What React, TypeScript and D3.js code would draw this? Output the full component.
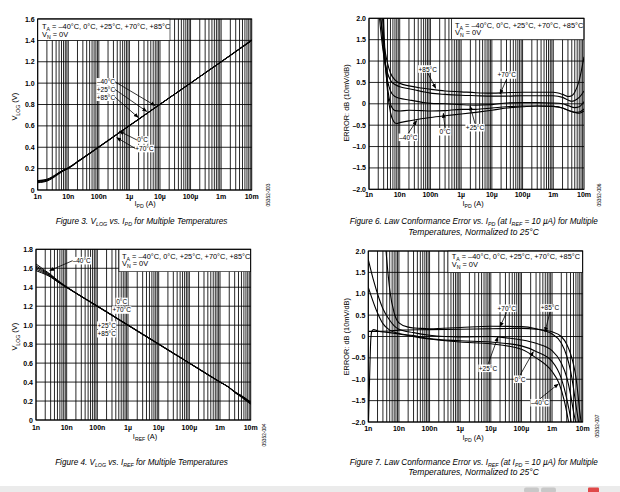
import React, { useLayoutEffect, useRef, useState } from "react";
import * as d3 from "d3";

type Pt = [number, number];

// ---------- shared axis data ----------
const X_TICK_VALUES = [1e-9, 1e-8, 1e-7, 1e-6, 1e-5, 1e-4, 1e-3, 1e-2];
const X_TICK_LABELS = ["1n", "10n", "100n", "1µ", "10µ", "100µ", "1m", "10m"];
const Y_TICKS_VPD = [0, 0.2, 0.4, 0.6, 0.8, 1.0, 1.2, 1.4, 1.6];
const Y_LABELS_VPD = ["0", "0.2", "0.4", "0.6", "0.8", "1.0", "1.2", "1.4", "1.6"];
const Y_TICKS_VREF = [0, 0.2, 0.4, 0.6, 0.8, 1.0, 1.2, 1.4, 1.6, 1.8];
const Y_LABELS_VREF = ["0", "0.2", "0.4", "0.6", "0.8", "1.0", "1.2", "1.4", "1.6", "1.8"];
const Y_TICKS_ERR = [-2, -1.5, -1, -0.5, 0, 0.5, 1, 1.5, 2];
const Y_LABELS_ERR = ["–2.0", "–1.5", "–1.0", "–0.5", "0", "0.5", "1.0", "1.5", "2.0"];
const LEGEND_LINE1 = ["T", "A", " = –40°C, 0°C, +25°C, +70°C, +85°C"];
const LEGEND_LINE2 = ["V", "N", " = 0V"];

// ---------- Figure 3: VLOG vs IPD ----------
const F3_M40: Pt[] = [[1e-9, 0.068], [1.5e-9, 0.074], [2e-9, 0.083], [3e-9, 0.108], [5e-9, 0.152], [7e-9, 0.178], [1e-8, 0.2], [2e-8, 0.26], [5e-8, 0.339], [1e-7, 0.4], [1e-6, 0.6], [1e-5, 0.801], [1e-4, 1.001], [1e-3, 1.201], [3e-3, 1.297], [1e-2, 1.405]];
const F3_0: Pt[] = [[1e-9, 0.073], [1.5e-9, 0.079], [2e-9, 0.088], [3e-9, 0.113], [5e-9, 0.156], [7e-9, 0.181], [1e-8, 0.203], [2e-8, 0.262], [5e-8, 0.341], [1e-7, 0.401], [1e-6, 0.601], [1e-5, 0.801], [1e-4, 1.0], [1e-3, 1.2], [3e-3, 1.296], [1e-2, 1.402]];
const F3_25: Pt[] = [[1e-9, 0.078], [1.5e-9, 0.084], [2e-9, 0.092], [3e-9, 0.117], [5e-9, 0.159], [7e-9, 0.183], [1e-8, 0.205], [2e-8, 0.264], [5e-8, 0.342], [1e-7, 0.402], [1e-6, 0.602], [1e-5, 0.802], [1e-4, 1.0], [1e-3, 1.199], [3e-3, 1.295], [1e-2, 1.4]];
const F3_70: Pt[] = [[1e-9, 0.084], [1.5e-9, 0.09], [2e-9, 0.097], [3e-9, 0.121], [5e-9, 0.162], [7e-9, 0.186], [1e-8, 0.207], [2e-8, 0.266], [5e-8, 0.344], [1e-7, 0.404], [1e-6, 0.603], [1e-5, 0.802], [1e-4, 1.0], [1e-3, 1.198], [3e-3, 1.294], [1e-2, 1.398]];
const F3_85: Pt[] = [[1e-9, 0.088], [1.5e-9, 0.094], [2e-9, 0.101], [3e-9, 0.124], [5e-9, 0.165], [7e-9, 0.188], [1e-8, 0.209], [2e-8, 0.267], [5e-8, 0.345], [1e-7, 0.405], [1e-6, 0.604], [1e-5, 0.803], [1e-4, 1.0], [1e-3, 1.198], [3e-3, 1.293], [1e-2, 1.397]];

// ---------- Figure 4: VLOG vs IREF ----------
const F4_M40: Pt[] = [[1e-9, 1.645], [1.5e-9, 1.605], [2e-9, 1.575], [3e-9, 1.535], [5e-9, 1.475], [1e-8, 1.405], [1e-7, 1.203], [1e-6, 1.003], [1e-5, 0.803], [1e-4, 0.602], [1e-3, 0.402], [2e-3, 0.34], [3e-3, 0.29], [5e-3, 0.24], [1e-2, 0.165]];
const F4_0: Pt[] = [[1e-9, 1.625], [1.5e-9, 1.59], [2e-9, 1.565], [3e-9, 1.528], [5e-9, 1.47], [1e-8, 1.402], [1e-7, 1.202], [1e-6, 1.002], [1e-5, 0.802], [1e-4, 0.601], [1e-3, 0.401], [2e-3, 0.342], [3e-3, 0.292], [5e-3, 0.245], [1e-2, 0.172]];
const F4_25: Pt[] = [[1e-9, 1.61], [1.5e-9, 1.578], [2e-9, 1.555], [3e-9, 1.52], [5e-9, 1.465], [1e-8, 1.4], [1e-7, 1.2], [1e-6, 1.0], [1e-5, 0.8], [1e-4, 0.6], [1e-3, 0.4], [2e-3, 0.342], [3e-3, 0.295], [5e-3, 0.25], [1e-2, 0.178]];
const F4_70: Pt[] = [[1e-9, 1.592], [1.5e-9, 1.565], [2e-9, 1.545], [3e-9, 1.513], [5e-9, 1.461], [1e-8, 1.398], [1e-7, 1.198], [1e-6, 0.998], [1e-5, 0.798], [1e-4, 0.599], [1e-3, 0.399], [2e-3, 0.343], [3e-3, 0.298], [5e-3, 0.255], [1e-2, 0.185]];
const F4_85: Pt[] = [[1e-9, 1.575], [1.5e-9, 1.553], [2e-9, 1.536], [3e-9, 1.507], [5e-9, 1.457], [1e-8, 1.396], [1e-7, 1.197], [1e-6, 0.997], [1e-5, 0.797], [1e-4, 0.598], [1e-3, 0.398], [2e-3, 0.343], [3e-3, 0.299], [5e-3, 0.258], [1e-2, 0.19]];

// ---------- Figure 6: error vs IPD ----------
const F6_85: Pt[] = [[1.5e-9, 3.2], [2e-9, 2.5], [2.5e-9, 1.9], [3e-9, 1.45], [4e-9, 0.95], [5e-9, 0.72], [7e-9, 0.56], [1e-8, 0.48], [2e-8, 0.42], [5e-8, 0.37], [1e-7, 0.34], [3e-7, 0.3], [1e-6, 0.28], [3e-6, 0.26], [1e-5, 0.25], [3e-5, 0.26], [1e-4, 0.27], [3e-4, 0.27], [1e-3, 0.27], [2e-3, 0.22], [3e-3, 0.17], [4e-3, 0.19], [5e-3, 0.27], [7e-3, 0.55], [1e-2, 1.1]];
const F6_70: Pt[] = [[1.5e-9, 3.0], [2e-9, 2.3], [2.5e-9, 1.6], [3e-9, 1.15], [4e-9, 0.72], [5e-9, 0.55], [7e-9, 0.45], [1e-8, 0.4], [2e-8, 0.35], [5e-8, 0.29], [1e-7, 0.25], [3e-7, 0.22], [1e-6, 0.2], [3e-6, 0.19], [1e-5, 0.18], [3e-5, 0.18], [1e-4, 0.19], [3e-4, 0.19], [1e-3, 0.19], [2e-3, 0.15], [3e-3, 0.09], [4e-3, 0.06], [5e-3, 0.08], [7e-3, 0.15], [1e-2, 0.3]];
const F6_25: Pt[] = [[2e-9, 2.8], [2.5e-9, 1.9], [3e-9, 1.2], [4e-9, 0.55], [5e-9, 0.3], [7e-9, 0.17], [1e-8, 0.13], [2e-8, 0.09], [5e-8, 0.04], [1e-7, 0.01], [3e-7, 0.0], [1e-6, -0.02], [3e-6, -0.03], [1e-5, -0.02], [3e-5, 0.02], [1e-4, 0.03], [3e-4, 0.03], [1e-3, 0.02], [2e-3, 0.0], [3e-3, -0.04], [5e-3, -0.09], [7e-3, -0.07], [1e-2, 0.05]];
const F6_0: Pt[] = [[2.5e-9, 2.6], [3e-9, 1.5], [4e-9, 0.4], [5e-9, 0.0], [6e-9, -0.12], [7e-9, -0.16], [1e-8, -0.17], [2e-8, -0.15], [5e-8, -0.16], [1e-7, -0.17], [3e-7, -0.16], [1e-6, -0.13], [3e-6, -0.13], [1e-5, -0.1], [3e-5, -0.07], [1e-4, -0.05], [3e-4, -0.05], [1e-3, -0.06], [2e-3, -0.1], [3e-3, -0.15], [5e-3, -0.2], [7e-3, -0.19], [1e-2, -0.12]];
const F6_M40: Pt[] = [[2.8e-9, 2.6], [3e-9, 1.9], [3.5e-9, 0.9], [4e-9, 0.3], [5e-9, -0.2], [6e-9, -0.38], [7e-9, -0.45], [8e-9, -0.46], [1e-8, -0.44], [2e-8, -0.4], [5e-8, -0.35], [1e-7, -0.32], [3e-7, -0.28], [1e-6, -0.24], [3e-6, -0.2], [1e-5, -0.15], [3e-5, -0.1], [1e-4, -0.07], [3e-4, -0.05], [1e-3, -0.06], [2e-3, -0.1], [3e-3, -0.15], [5e-3, -0.2], [7e-3, -0.22], [1e-2, -0.17]];

// ---------- Figure 7: error vs IREF ----------
const F7_85: Pt[] = [[1e-9, 0.12], [2e-9, 0.12], [5e-9, 0.13], [1e-8, 0.15], [1e-7, 0.16], [1e-6, 0.17], [1e-5, 0.18], [1e-4, 0.19], [3e-4, 0.17], [1e-3, 0.11], [2e-3, 0.0], [3e-3, -0.18], [4e-3, -0.4], [5e-3, -0.65], [6e-3, -0.95], [7e-3, -1.35], [8e-3, -1.75], [9.3e-3, -2.1]];
const F7_70: Pt[] = [[3.5e-9, 2.3], [4e-9, 1.8], [5e-9, 1.1], [7e-9, 0.55], [1e-8, 0.32], [2e-8, 0.22], [5e-8, 0.19], [1e-7, 0.18], [1e-6, 0.21], [1e-5, 0.24], [1e-4, 0.23], [3e-4, 0.18], [1e-3, 0.06], [2e-3, -0.15], [3e-3, -0.45], [4e-3, -0.8], [5e-3, -1.2], [6e-3, -1.6], [7.7e-3, -2.1]];
const F7_25: Pt[] = [[1e-9, 1.8], [1.5e-9, 1.3], [2e-9, 1.0], [3e-9, 0.65], [5e-9, 0.38], [7e-9, 0.25], [1e-8, 0.17], [3e-8, 0.09], [1e-7, 0.03], [3e-7, 0.0], [1e-6, -0.01], [1e-5, 0.0], [3e-5, -0.03], [1e-4, -0.08], [3e-4, -0.16], [1e-3, -0.33], [2e-3, -0.62], [3e-3, -0.95], [4e-3, -1.35], [5e-3, -1.75], [6.3e-3, -2.1]];
const F7_0: Pt[] = [[1e-9, 1.15], [2e-9, 0.55], [3e-9, 0.3], [5e-9, 0.15], [1e-8, 0.07], [3e-8, 0.02], [1e-7, -0.05], [1e-6, -0.1], [1e-5, -0.13], [1e-4, -0.22], [3e-4, -0.35], [1e-3, -0.58], [2e-3, -0.98], [3e-3, -1.45], [4e-3, -1.9], [4.4e-3, -2.1]];
const F7_M40: Pt[] = [[1e-9, -2.2], [1.1e-9, -1.0], [1.2e-9, -0.1], [1.3e-9, 0.12], [1.5e-9, 0.16], [2e-9, 0.13], [5e-9, 0.09], [1e-8, 0.06], [1e-7, -0.06], [1e-6, -0.13], [1e-5, -0.17], [1e-4, -0.3], [3e-4, -0.5], [1e-3, -0.82], [1.7e-3, -1.1], [2.5e-3, -1.5], [3.9e-3, -2.2]];

// ---------- annotations (data coordinates) ----------
type Ann = { text: string; lx: number; ly: number; tx?: number; ty?: number; from?: "left" | "right" | "top" | "bottom" };
const F3_ANN: Ann[] = [
  { text: "–40°C", lx: 1.71e-7, ly: 1.012, tx: 6.87e-6, ty: 0.79, from: "right" },
  { text: "+25°C", lx: 1.71e-7, ly: 0.94, tx: 3.68e-6, ty: 0.735, from: "right" },
  { text: "+85°C", lx: 1.71e-7, ly: 0.868, tx: 1.95e-6, ty: 0.678, from: "right" },
  { text: "0°C", lx: 2.7e-6, ly: 0.468, tx: 4.67e-7, ty: 0.55, from: "left" },
  { text: "+70°C", lx: 3.1e-6, ly: 0.388, tx: 3.84e-7, ty: 0.49, from: "left" },
];
const F4_ANN: Ann[] = [
  { text: "–40°C", lx: 3.09e-8, ly: 1.68, tx: 2.8e-9, ty: 1.575, from: "left" },
  { text: "0°C", lx: 6.22e-7, ly: 1.25 },
  { text: "+70°C", lx: 6.22e-7, ly: 1.16 },
  { text: "+25°C", lx: 2.02e-7, ly: 1.0 },
  { text: "+85°C", lx: 2.02e-7, ly: 0.91 },
];
const F6_ANN: Ann[] = [
  { text: "+85°C", lx: 8.15e-8, ly: 0.814, tx: 1.49e-7, ty: 0.363, from: "bottom" },
  { text: "+70°C", lx: 3.05e-5, ly: 0.674, tx: 1.84e-5, ty: 0.229, from: "bottom" },
  { text: "–40°C", lx: 1.9e-8, ly: -0.784, tx: 3.57e-8, ty: -0.395, from: "top" },
  { text: "0°C", lx: 2.98e-7, ly: -0.653, tx: 2.63e-7, ty: -0.222, from: "top" },
  { text: "+25°C", lx: 2.83e-6, ly: -0.559, tx: 1.95e-6, ty: -0.051, from: "top" },
];
const F7_ANN: Ann[] = [
  { text: "+70°C", lx: 3.3e-5, ly: 0.66, tx: 2e-5, ty: 0.23, from: "bottom" },
  { text: "+85°C", lx: 8.55e-4, ly: 0.667, tx: 5.87e-4, ty: 0.112, from: "bottom" },
  { text: "+25°C", lx: 8.09e-6, ly: -0.744, tx: 1.71e-5, ty: -0.012, from: "top" },
  { text: "0°C", lx: 8.97e-5, ly: -1.0, tx: 2.44e-4, ty: -0.356, from: "top" },
  { text: "–40°C", lx: 4.03e-4, ly: -1.549, tx: 1.6e-3, ty: -1.111, from: "top" },
];

const FONT = "'Liberation Sans', Arial, Helvetica, sans-serif";

type Part = [string, boolean];
function Rich({ parts, x, y, size, sub, anchor = "start", italic = false, rotate = false, weight = "normal" }: {
  parts: Part[]; x: number; y: number; size: number; sub: number; anchor?: string; italic?: boolean; rotate?: boolean; weight?: string;
}) {
  const shift = size * 0.28;
  let cur = 0;
  return (
    <text x={x} y={y} fontSize={size} fontFamily={FONT} textAnchor={anchor as any} fontStyle={italic ? "italic" : "normal"}
      fontWeight={weight}
      transform={rotate ? `rotate(-90 ${x} ${y})` : undefined} fill="#000">
      {parts.map(([s, isSub], i) => {
        const target = isSub ? shift : 0;
        const dy = target - cur;
        cur = target;
        return <tspan key={i} dy={dy} fontSize={isSub ? sub : size}>{s}</tspan>;
      })}
    </text>
  );
}

// caption: measured, then squeezed horizontally to the width the reference uses
function Caption({ parts, cx, y, width }: { parts: Part[]; cx: number; y: number; width: number }) {
  const ref = useRef<SVGGElement>(null);
  const [sx, setSx] = useState(0.82);
  useLayoutEffect(() => {
    if (ref.current) {
      const w = ref.current.getBBox().width;
      if (w > 0) setSx(width / w);
    }
  }, [width]);
  return (
    <g transform={`translate(${cx} ${y}) scale(${sx} 1)`}>
      <g ref={ref}>
        <Rich parts={parts} x={0} y={0} size={8.6} sub={5.6} anchor="middle" italic />
      </g>
    </g>
  );
}

const toParts = (arr: string[]): Part[] => arr.map((s, i) => [s, i % 2 === 1]);

interface PanelProps {
  id: string;
  x0: number; x1: number; y0: number; y1: number;
  yDomain: [number, number];
  yTicks: number[]; yLabels: string[];
  series: Pt[][];
  lineWidth: number;
  legend: { bx0: number; bx1: number; by1: number; tx: number; l1: number; l2: number };
  anns: Ann[];
  yTitle: Part[]; yTitleX: number; yTitleY: number;
  xTitle: Part[]; xTitleX: number; xTitleY: number;
  xLabelDy: number;
  code: string; codeX: number; codeY: number;
}

function Panel(p: PanelProps) {
  const x = d3.scaleLog().domain([1e-9, 1e-2]).range([p.x0, p.x1]);
  const y = d3.scaleLinear().domain(p.yDomain).range([p.y1, p.y0]);
  const minor: number[] = [];
  for (let e = -9; e < -2; e++) for (let m = 1; m < 10; m++) minor.push(m * Math.pow(10, e));
  const line = d3.line<Pt>().x((d) => x(d[0])).y((d) => y(d[1])).curve(d3.curveMonotoneX);
  const clipId = `clip-${p.id}`;
  const labelW = (t: string) => t.length * 3.45;
  return (
    <g>
      <defs>
        <clipPath id={clipId}>
          <rect x={p.x0} y={p.y0} width={p.x1 - p.x0} height={p.y1 - p.y0} />
        </clipPath>
      </defs>
      <rect x={p.x0} y={p.y0} width={p.x1 - p.x0} height={p.y1 - p.y0} fill="#fff" />
      {minor.map((v, i) => (
        <line key={`v${i}`} x1={x(v)} x2={x(v)} y1={p.y0} y2={p.y1} stroke="#000" strokeWidth={0.85} />
      ))}
      {p.yTicks.map((v, i) => (
        <line key={`h${i}`} x1={p.x0} x2={p.x1} y1={y(v)} y2={y(v)} stroke="#000" strokeWidth={0.85} />
      ))}
      <rect x={p.legend.bx0} y={p.y0} width={p.legend.bx1 - p.legend.bx0} height={p.legend.by1 - p.y0} fill="#fff" stroke="#000" strokeWidth={0.6} />
      <Rich parts={toParts(LEGEND_LINE1)} x={p.legend.tx} y={p.legend.l1} size={7.4} sub={5.2} />
      <Rich parts={toParts(LEGEND_LINE2)} x={p.legend.tx} y={p.legend.l2} size={7.4} sub={5.2} />
      <g clipPath={`url(#${clipId})`}>
        {p.series.map((s, i) => (
          <path key={i} d={line(s) || ""} fill="none" stroke="#000" strokeWidth={p.lineWidth} strokeLinejoin="round" />
        ))}
      </g>
      {p.anns.map((a, i) => {
        const lx = x(a.lx), ly = y(a.ly);
        const w = labelW(a.text);
        let arrow = null;
        if (a.tx !== undefined && a.ty !== undefined && a.from) {
          let sx = lx, sy = ly;
          if (a.from === "right") sx = lx + w / 2 + 0.5;
          if (a.from === "left") sx = lx - w / 2 - 0.5;
          if (a.from === "top") sy = ly - 4;
          if (a.from === "bottom") sy = ly + 4;
          const tx = x(a.tx), ty = y(a.ty);
          arrow = <line x1={sx} y1={sy} x2={tx} y2={ty} stroke="#000" strokeWidth={0.8} markerEnd="url(#arrowhead)" />;
        }
        return (
          <g key={`a${i}`}>
            <rect x={lx - w / 2 - 1} y={ly - 3.8} width={w + 2} height={7.6} fill="#fff" />
            <text x={lx} y={ly} fontSize={6.5} fontFamily={FONT} textAnchor="middle" dominantBaseline="central">{a.text}</text>
            {arrow}
          </g>
        );
      })}
      <rect x={p.x0} y={p.y0} width={p.x1 - p.x0} height={p.y1 - p.y0} fill="none" stroke="#000" strokeWidth={1} />
      {p.yTicks.map((v, i) => (
        <text key={`yl${i}`} x={p.x0 - 3} y={y(v)} fontSize={7} fontWeight="bold" fontFamily={FONT} textAnchor="end" dominantBaseline="central">{p.yLabels[i]}</text>
      ))}
      {X_TICK_VALUES.map((v, i) => (
        <text key={`xl${i}`} x={x(v)} y={p.y1 + p.xLabelDy} fontSize={7} fontWeight="bold" fontFamily={FONT} textAnchor="middle" dominantBaseline="central">{X_TICK_LABELS[i]}</text>
      ))}
      <Rich parts={p.xTitle} x={p.xTitleX} y={p.xTitleY} size={7.4} sub={5.2} anchor="middle" />
      <Rich parts={p.yTitle} x={p.yTitleX} y={p.yTitleY} size={7.4} sub={5.2} anchor="middle" rotate />
      <text x={p.codeX} y={p.codeY} fontSize={4.8} fontFamily={FONT} textAnchor="middle" transform={`rotate(-90 ${p.codeX} ${p.codeY})`}>{p.code}</text>
    </g>
  );
}

const CAP3: Part[] = [["Figure 3. V", false], ["LOG", true], [" vs. I", false], ["PD", true], [" for Multiple Temperatures", false]];
const CAP4: Part[] = [["Figure 4. V", false], ["LOG", true], [" vs. I", false], ["REF", true], [" for Multiple Temperatures", false]];
const CAP6: Part[] = [["Figure 6. Law Conformance Error vs. I", false], ["PD", true], [" (at I", false], ["REF", true], [" = 10 µA) for Multiple", false]];
const CAP7: Part[] = [["Figure 7. Law Conformance Error vs. I", false], ["REF", true], [" (at I", false], ["PD", true], [" = 10 µA) for Multiple", false]];
const CAP_LINE2: Part[] = [["Temperatures, Normalized to 25°C", false]];

export default function App() {
  return (
    <svg width={620} height={492} viewBox="0 0 620 492" style={{ position: "absolute", left: 0, top: 0, background: "#fff" }}>
      <defs>
        <marker id="arrowhead" viewBox="0 0 10 10" refX="9" refY="5" markerWidth="5" markerHeight="5" markerUnits="userSpaceOnUse" orient="auto">
          <path d="M0,1 L10,5 L0,9 z" fill="#000" />
        </marker>
      </defs>
      <rect x={0} y={0} width={620} height={492} fill="#fff" />
      <Panel id="f3" x0={37.7} x1={251.7} y0={19} y1={190} yDomain={[0, 1.6]} yTicks={Y_TICKS_VPD} yLabels={Y_LABELS_VPD}
        series={[F3_M40, F3_0, F3_25, F3_70, F3_85]} lineWidth={1.0}
        legend={{ bx0: 37.7, bx1: 170, by1: 40.3, tx: 42, l1: 28.8, l2: 36.5 }}
        anns={F3_ANN}
        yTitle={[["V", false], ["LOG", true], [" (V)", false]]} yTitleX={17.5} yTitleY={106.7}
        xTitle={[["I", false], ["PD", true], [" (A)", false]]} xTitleX={145} xTitleY={206}
        xLabelDy={6.5} code="05352-003" codeX={270} codeY={195} />
      <Panel id="f6" x0={369} x1={584} y0={18.3} y1={189.3} yDomain={[-2, 2]} yTicks={Y_TICKS_ERR} yLabels={Y_LABELS_ERR}
        series={[F6_85, F6_70, F6_25, F6_0, F6_M40]} lineWidth={1.1}
        legend={{ bx0: 451.7, bx1: 584, by1: 39.7, tx: 455, l1: 27.5, l2: 35.2 }}
        anns={F6_ANN}
        yTitle={[["ERROR: dB (10mV/dB)", false]]} yTitleX={349} yTitleY={103}
        xTitle={[["I", false], ["PD", true], [" (A)", false]]} xTitleX={473} xTitleY={206}
        xLabelDy={5.5} code="05352-006" codeX={601} codeY={195} />
      <Panel id="f4" x0={36} x1={250.7} y0={249.3} y1={420} yDomain={[0, 1.8]} yTicks={Y_TICKS_VREF} yLabels={Y_LABELS_VREF}
        series={[F4_M40, F4_0, F4_25, F4_70, F4_85]} lineWidth={1.0}
        legend={{ bx0: 119, bx1: 250.7, by1: 271.7, tx: 122, l1: 258.5, l2: 266.3 }}
        anns={F4_ANN}
        yTitle={[["V", false], ["LOG", true], [" (V)", false]]} yTitleX={17.5} yTitleY={336.7}
        xTitle={[["I", false], ["REF", true], [" (A)", false]]} xTitleX={145} xTitleY={438.5}
        xLabelDy={7} code="05352-004" codeX={266} codeY={435} />
      <Panel id="f7" x0={368.3} x1={582.7} y0={251} y1={422} yDomain={[-2, 2]} yTicks={Y_TICKS_ERR} yLabels={Y_LABELS_ERR}
        series={[F7_85, F7_70, F7_25, F7_0, F7_M40]} lineWidth={1.1}
        legend={{ bx0: 448, bx1: 582.7, by1: 272.4, tx: 451.7, l1: 259.2, l2: 267.3 }}
        anns={F7_ANN}
        yTitle={[["ERROR: dB (10mV/dB)", false]]} yTitleX={349} yTitleY={336.7}
        xTitle={[["I", false], ["PD", true], [" (A)", false]]} xTitleX={473} xTitleY={439.5}
        xLabelDy={6.3} code="05352-007" codeX={599} codeY={426} />
      <Caption parts={CAP3} cx={141.5} y={224} width={172} />
      <Caption parts={CAP6} cx={473.8} y={224} width={249} />
      <Caption parts={CAP_LINE2} cx={473.5} y={235} width={131} />
      <Caption parts={CAP4} cx={141.5} y={464.5} width={173} />
      <Caption parts={CAP7} cx={473.8} y={464.5} width={249} />
      <Caption parts={CAP_LINE2} cx={473.5} y={475.2} width={131} />
      <rect x={0} y={486} width={620} height={6} fill="#ebebeb" />
      <rect x={524} y={487.5} width={15} height={5} rx={2} fill="#c8c8c8" />
      <rect x={541} y={487.5} width={15} height={5} rx={2} fill="#c8c8c8" />
      <rect x={588} y={487.5} width={11} height={5} rx={1} fill="#e04848" />
    </svg>
  );
}
